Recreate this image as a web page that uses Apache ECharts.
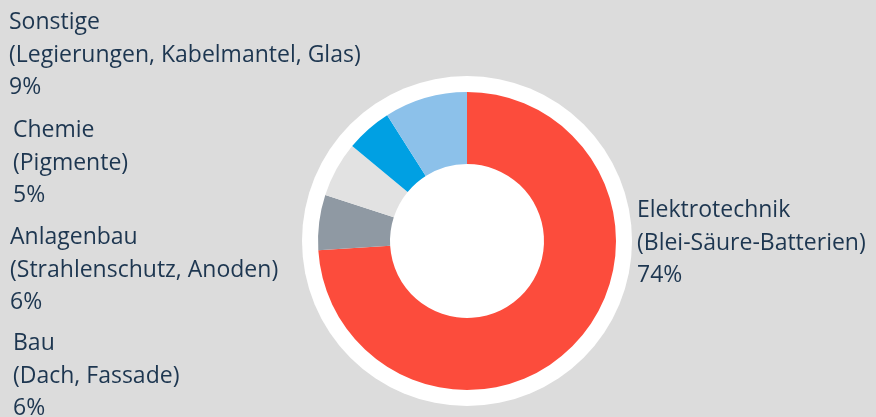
<!DOCTYPE html>
<html>
<head>
<meta charset="utf-8">
<script src="https://cdn.jsdelivr.net/npm/echarts@6/dist/echarts.min.js"></script>
<style>
  html, body { margin: 0; padding: 0; background: #dcdcdc; }
  #chart { width: 876px; height: 417px; }
</style>
</head>
<body>
<div id="chart"></div>
<script>
// Anteile in Prozent, im Uhrzeigersinn ab 12 Uhr
const categories = ['Elektrotechnik', 'Bau', 'Anlagenbau', 'Chemie', 'Sonstige']
const details = ['(Blei-Säure-Batterien)', '(Dach, Fassade)', '(Strahlenschutz, Anoden)', '(Pigmente)', '(Legierungen, Kabelmantel, Glas)']
const shares = [74, 6, 6, 5, 9]

const COLORS = ['#fc4c3c', '#8f99a3', '#e2e2e2', '#00a0e3', '#8cc1ea']
// Label-Blöcke: linke Kante und vertikale Mitte
const LABEL_POS = [
  { x: 637, y: 243 },
  { x: 13, y: 376 },
  { x: 10, y: 270 },
  { x: 13, y: 163 },
  { x: 9, y: 55 }
]

const chart = echarts.init(document.getElementById('chart'), null, { renderer: 'canvas' })

chart.setOption({
  backgroundColor: '#dcdcdc',
  animation: false,
  series: [
    {
      // weisse Scheibe hinter dem Ring
      type: 'pie',
      center: [467, 241],
      radius: [0, 165],
      silent: true,
      label: { show: false },
      labelLine: { show: false },
      itemStyle: { color: '#ffffff' },
      data: [{ value: 1, name: 'bg' }]
    },
    {
      type: 'pie',
      center: [467, 241],
      radius: [77, 149],
      startAngle: 90,
      clockwise: true,
      avoidLabelOverlap: false,
      labelLine: { show: false },
      label: {
        show: true,
        position: 'outside',
        color: '#1d3650',
        fontFamily: 'Open Sans',
        fontSize: 23,
        lineHeight: 32.5,
        align: 'left',
        formatter: (p) => `${p.name}\n${details[p.dataIndex]}\n${p.value}%`
      },
      labelLayout: (params) => ({
        x: LABEL_POS[params.dataIndex].x,
        y: LABEL_POS[params.dataIndex].y,
        align: 'left',
        verticalAlign: 'middle'
      }),
      data: categories.map((name, i) => ({
        name,
        value: shares[i],
        itemStyle: { color: COLORS[i] }
      }))
    }
  ]
})
</script>
</body>
</html>
